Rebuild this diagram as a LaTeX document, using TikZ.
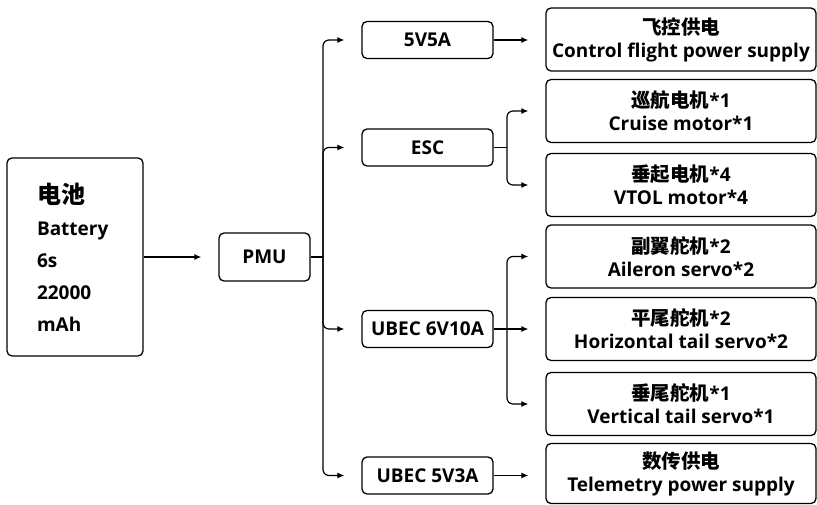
\documentclass[tikz,border=0pt]{standalone}
\usepackage{fontspec}
\setmainfont{Open Sans}
\newfontfamily\cjk{Noto Sans CJK SC Bold}
\usetikzlibrary{arrows.meta}
\newcommand\zh[1]{{\cjk\fontsize{19.5}{23}\selectfont #1}}
\begin{document}
\begin{tikzpicture}[x=1pt,y=-1pt,
  box/.style={draw, line width=1.3pt, rounded corners=5pt, inner sep=0pt, align=center,
    font=\bfseries\fontsize{19}{23}\selectfont},
  midbox/.style={box, minimum width=131pt, minimum height=37pt},
  endbox/.style={box, minimum width=270pt, minimum height=63pt},
  arr/.style={-{Latex[length=7pt,width=6pt]}, line width=1.2pt, shorten >=17pt, rounded corners=6pt},
  ln/.style={line width=1.2pt}]
\useasboundingbox (0,0) rectangle (817,505);
% battery and PMU
\node[box, minimum width=136pt, minimum height=198pt, text width=76pt, inner xsep=30pt, align=left,
  font=\bfseries\fontsize{19}{32}\selectfont] (bat) at (75,257)
  {{\cjk\fontsize{24}{32}\selectfont 电池}\\Battery\\6s\\22000\\mAh};
\node[box, minimum width=91pt, minimum height=48pt] (pmu) at (264.5,257) {PMU};
% middle column
\node[midbox] (m1) at (427.5,40) {5V5A};
\node[midbox] (m2) at (427.5,147.5) {ESC};
\node[midbox] (m3) at (427.5,329) {UBEC 6V10A};
\node[midbox] (m4) at (427.5,475.5) {UBEC 5V3A};
% right column
\node[endbox] (r1) at (681,39.5) {\zh{飞控供电}\\Control flight power supply};
\node[endbox] (r2) at (681,111) {\zh{巡航电机}*1\\Cruise motor*1};
\node[endbox] (r3) at (681,185) {\zh{垂起电机}*4\\VTOL motor*4};
\node[endbox] (r4) at (681,256.5) {\zh{副翼舵机}*2\\Aileron servo*2};
\node[endbox] (r5) at (681,329) {\zh{平尾舵机}*2\\Horizontal tail servo*2};
\node[endbox] (r6) at (681,404) {\zh{垂尾舵机}*1\\Vertical tail servo*1};
\node[endbox, minimum height=60pt] (r7) at (681,473.5) {\zh{数传供电}\\Telemetry power supply};
% junctions
\coordinate (tr) at (323,257);
\coordinate (eb) at (507,147.5);
\coordinate (ub) at (507,329);
% connectors
\draw[arr] (bat) -- (pmu);
\draw[ln] (pmu.east) -- (tr);
\draw[arr] (tr) |- (m1.west);
\draw[arr] (tr) |- (m2.west);
\draw[arr] (tr) |- (m3.west);
\draw[arr] (tr) |- (m4.west);
\draw[arr] (m1.east) -- (m1.east -| r1.west);
\draw[ln] (m2.east) -- (eb);
\draw[arr] (eb) |- (r2.west);
\draw[arr] (eb) |- (r3.west);
\draw[arr] (m3.east) -- (r5.west);
\draw[arr] (ub) |- (r4.west);
\draw[arr] (ub) |- (r6.west);
\draw[arr] (m4.east) -- (m4.east -| r7.west);
\end{tikzpicture}
\end{document}
